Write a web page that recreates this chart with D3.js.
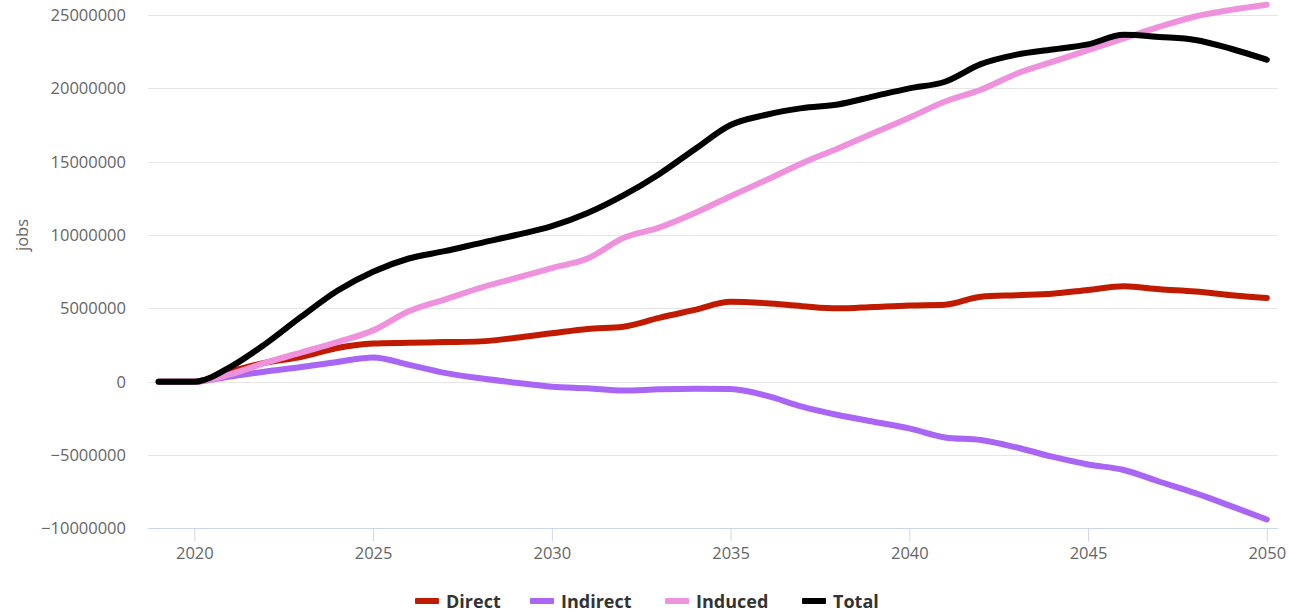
<!DOCTYPE html>
<html>
<head>
<meta charset="utf-8">
<script src="https://cdn.jsdelivr.net/npm/d3@7"></script>
<style>
  body { margin: 0; background: #fff; }
  svg { font-family: "Open Sans", sans-serif; }
</style>
</head>
<body>
<svg id="chart" width="1289" height="612"></svg>
<script>
var years = d3.range(2019, 2051);

var direct = [0, 0, 0.7, 1.3, 1.7, 2.3, 2.6, 2.65, 2.7, 2.75, 3.0, 3.3, 3.6, 3.75, 4.35, 4.9, 5.45,
              5.35, 5.15, 5.0, 5.1, 5.2, 5.25, 5.8, 5.9, 6.0, 6.25, 6.5, 6.3, 6.15, 5.9, 5.7];
var indirect = [0, 0, 0.35, 0.7, 1.0, 1.35, 1.65, 1.15, 0.6, 0.23, -0.07, -0.34, -0.45, -0.6, -0.52, -0.48, -0.5,
                -0.95, -1.7, -2.27, -2.73, -3.18, -3.8, -3.98, -4.48, -5.11, -5.64, -6.02, -6.82, -7.6, -8.48, -9.39];
var induced = [0, 0, 0.5, 1.3, 2.0, 2.7, 3.5, 4.8, 5.6, 6.4, 7.07, 7.75, 8.4, 9.8, 10.5, 11.5, 12.65,
               13.75, 14.9, 15.9, 16.95, 18.0, 19.1, 19.9, 21.0, 21.8, 22.6, 23.4, 24.2, 24.9, 25.35, 25.7];
var total = [0, 0, 1.0, 2.6, 4.45, 6.2, 7.5, 8.4, 8.9, 9.45, 10.0, 10.6, 11.5, 12.7, 14.15, 15.85, 17.5,
             18.2, 18.65, 18.9, 19.45, 20.0, 20.45, 21.65, 22.3, 22.65, 23.0, 23.65, 23.5, 23.3, 22.7, 21.95];

var seriesNames = ['Direct', 'Indirect', 'Induced', 'Total'];
var seriesColors = ['#c01a00', '#a966f4', '#ef92de', '#000000'];
var seriesValues = [direct, indirect, induced, total];

var yTicks = [-10000000, -5000000, 0, 5000000, 10000000, 15000000, 20000000, 25000000];
var xTicks = [2020, 2025, 2030, 2035, 2040, 2045, 2050];

var svg = d3.select('#chart');

var plotLeft = 148,
    plotRight = 1278;

var x = d3.scaleLinear()
    .domain([2019, 2050])
    .range([158.6, 1266.8]);

var y = d3.scaleLinear()
    .domain([-10000000, 25000000])
    .range([528.4, 15]);

// gridlines
svg.append('g')
   .selectAll('line')
   .data(yTicks)
   .enter().append('line')
   .attr('x1', plotLeft)
   .attr('x2', plotRight)
   .attr('y1', function(d) { return Math.round(y(d)) + 0.5 })
   .attr('y2', function(d) { return Math.round(y(d)) + 0.5 })
   .attr('stroke', '#e6e6e6')
   .attr('stroke-width', 1);

// y labels
svg.append('g')
   .selectAll('text')
   .data(yTicks)
   .enter().append('text')
   .attr('x', 126)
   .attr('y', function(d) { return y(d) + 6 })
   .attr('text-anchor', 'end')
   .style('font-size', '16.5px')
   .style('fill', '#666666')
   .text(function(d) { return d3.format('d')(d) });

svg.append('text')
   .attr('transform', 'translate(28,235) rotate(-90)')
   .attr('text-anchor', 'middle')
   .style('font-size', '16.5px')
   .style('fill', '#666666')
   .text('jobs');

// x axis
var xAxis = d3.axisBottom(x)
    .tickValues(xTicks)
    .tickSize(13)
    .tickPadding(6)
    .tickFormat(d3.format('d'));

var gx = svg.append('g')
   .attr('transform', 'translate(0,' + (Math.round(y(-10000000)) + 0.5) + ')')
   .call(xAxis);

gx.select('.domain')
   .attr('d', 'M' + plotLeft + ',0H' + plotRight)
   .attr('stroke', '#ccd6eb');
gx.selectAll('.tick line').attr('stroke', '#ccd6eb');
gx.selectAll('.tick text')
   .style('font-size', '16.5px')
   .style('font-family', '"Open Sans", sans-serif')
   .style('fill', '#666666');

// lines
var line = d3.line()
    .x(function(d, i) { return x(years[i]) })
    .y(function(d) { return y(d * 1000000) })
    .curve(d3.curveMonotoneX);

svg.append('g')
   .selectAll('path')
   .data(seriesValues)
   .enter().append('path')
   .attr('d', line)
   .attr('fill', 'none')
   .attr('stroke', function(d, i) { return seriesColors[i] })
   .attr('stroke-width', 6)
   .attr('stroke-linecap', 'round')
   .attr('stroke-linejoin', 'round');

// legend
var legendX = [415, 530, 665, 802];
var legend = svg.append('g')
   .selectAll('g')
   .data(seriesNames)
   .enter().append('g')
   .attr('transform', function(d, i) { return 'translate(' + legendX[i] + ',601)' });

legend.append('rect')
   .attr('x', 0)
   .attr('y', -3)
   .attr('width', 24)
   .attr('height', 6)
   .attr('rx', 1)
   .attr('fill', function(d, i) { return seriesColors[i] });

legend.append('text')
   .attr('x', 31)
   .attr('y', 6.5)
   .style('font-size', '18px')
   .style('font-weight', 'bold')
   .style('fill', '#333333')
   .text(function(d) { return d });
</script>
</body>
</html>
